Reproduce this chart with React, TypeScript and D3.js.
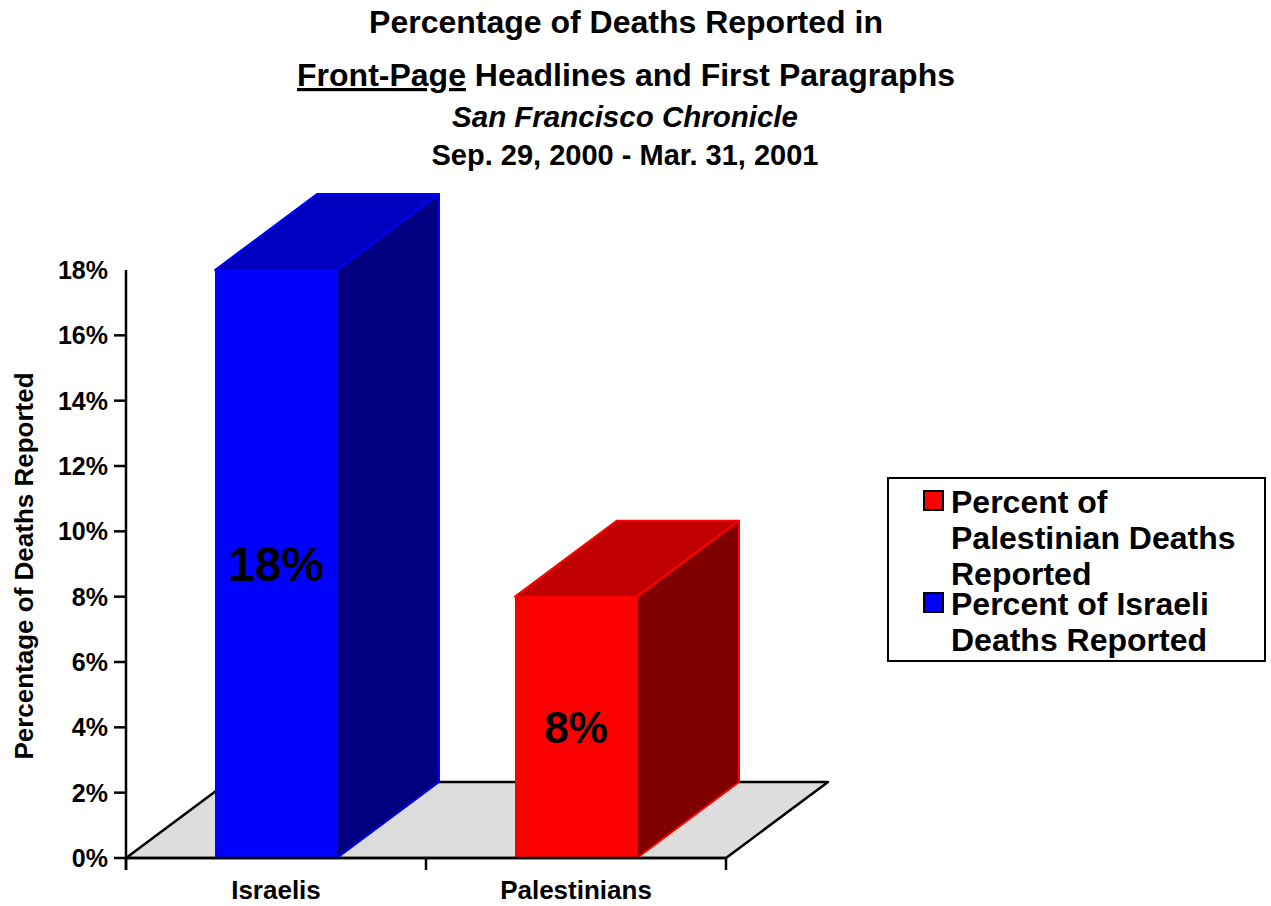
import React from 'react';
import * as d3 from 'd3';

const categories = ['Israelis', 'Palestinians'];
const values = [18, 8];
const valueLabels = ['18%', '8%'];
const yTicks = [0, 2, 4, 6, 8, 10, 12, 14, 16, 18];
const legendItems = [
  { lines: ['Percent of', 'Palestinian Deaths', 'Reported'], color: 'red' },
  { lines: ['Percent of Israeli', 'Deaths Reported'], color: 'blue' }
];

const palette: Record<string, { front: string; top: string; side: string }> = {
  blue: { front: '#0000FF', top: '#0000C0', side: '#000080' },
  red: { front: '#FF0000', top: '#C00000', side: '#800000' }
};
const barColors = ['blue', 'red'];

const FONT = '"Liberation Sans", Arial, Helvetica, sans-serif';

export default function App() {
  const width = 1271;
  const height = 906;
  const x0 = 126;
  const x1 = 726;
  const y0 = 858;
  const yTop = 270;
  const dx = 102;
  const dy = -76;

  const x = d3.scaleBand<string>().domain(categories).range([x0, x1]).paddingInner(0).paddingOuter(0);
  const y = d3.scaleLinear().domain([0, 18]).range([y0, yTop]);
  const barW = 122;

  const pts = (p: [number, number][]) => p.map(d => d.join(',')).join(' ');

  return (
    <svg width={width} height={height} style={{ position: 'absolute', left: 0, top: 0, background: '#fff' }} fontFamily={FONT}>
      {/* title */}
      <g fontWeight="bold" textAnchor="middle" fill="#000">
        <text x={626} y={33} fontSize={32}>Percentage of Deaths Reported in</text>
        <text x={626} y={86} fontSize={32}>
          <tspan textDecoration="underline">Front-Page</tspan> Headlines and First Paragraphs
        </text>
        <text x={625} y={127} fontSize={29.5} fontStyle="italic">San Francisco Chronicle</text>
        <text x={625} y={165} fontSize={29}>Sep. 29, 2000 - Mar. 31, 2001</text>
      </g>

      {/* floor */}
      <polygon
        points={pts([[x0, y0], [x1, y0], [x1 + dx, y0 + dy], [x0 + dx, y0 + dy]])}
        fill="#DDDDDD"
        stroke="#000"
        strokeWidth={2.5}
        strokeLinejoin="round"
      />

      {/* bars */}
      {categories.map((c, i) => {
        const cx = (x(c) ?? 0) + x.bandwidth() / 2;
        const l = cx - barW / 2;
        const r = cx + barW / 2;
        const t = y(values[i]);
        const col = palette[barColors[i]];
        return (
          <g key={c} stroke={col.front} strokeWidth={2} strokeLinejoin="round">
            <polygon points={pts([[r, t], [r, y0], [r + dx, y0 + dy], [r + dx, t + dy]])} fill={col.side} />
            <polygon points={pts([[l, t], [r, t], [r + dx, t + dy], [l + dx, t + dy]])} fill={col.top} />
            <rect x={l} y={t} width={barW} height={y0 - t} fill={col.front} stroke="none" />
            <text
              x={cx}
              y={(t + y0) / 2 + (i === 0 ? 17 : 16)}
              textAnchor="middle"
              fontSize={i === 0 ? 48 : 44}
              fontWeight="bold"
              fill="#000"
              stroke="none"
            >
              {valueLabels[i]}
            </text>
          </g>
        );
      })}

      {/* y axis */}
      <g stroke="#000" strokeWidth={2.5}>
        <line x1={x0} x2={x0} y1={yTop} y2={y0 + 12} />
        {yTicks.filter(t => t < 18).map(t => (
          <line key={t} x1={x0 - 12} x2={x0} y1={y(t)} y2={y(t)} />
        ))}
      </g>
      <g fontWeight="bold" fontSize={25} textAnchor="end">
        {yTicks.map(t => (
          <text key={t} x={108} y={y(t) + 9}>{t}%</text>
        ))}
      </g>
      <text
        transform={`translate(33, 566) rotate(-90)`}
        textAnchor="middle"
        fontWeight="bold"
        fontSize={26}
      >
        Percentage of Deaths Reported
      </text>

      {/* x axis */}
      <g stroke="#000" strokeWidth={2.5}>
        <line x1={x0} x2={x1} y1={y0} y2={y0} />
        {[...categories.map(c => x(c) ?? 0), x1].map((v, i) => (
          <line key={i} x1={v} x2={v} y1={y0} y2={y0 + 12} />
        ))}
      </g>
      <g fontWeight="bold" fontSize={26} textAnchor="middle">
        {categories.map(c => (
          <text key={c} x={(x(c) ?? 0) + x.bandwidth() / 2} y={899}>{c}</text>
        ))}
      </g>

      {/* legend */}
      <rect x={888} y={478} width={377} height={183} fill="#fff" stroke="#000" strokeWidth={2} />
      {legendItems.map((item, i) => {
        const baseY = i === 0 ? 513 : 615;
        return (
          <g key={i}>
            <rect x={924} y={baseY - 22} width={19} height={19} fill={palette[item.color].front} stroke="#000" strokeWidth={2} />
            {item.lines.map((ln, j) => (
              <text key={j} x={951} y={baseY + j * 36} fontSize={32} fontWeight="bold">{ln}</text>
            ))}
          </g>
        );
      })}
    </svg>
  );
}
